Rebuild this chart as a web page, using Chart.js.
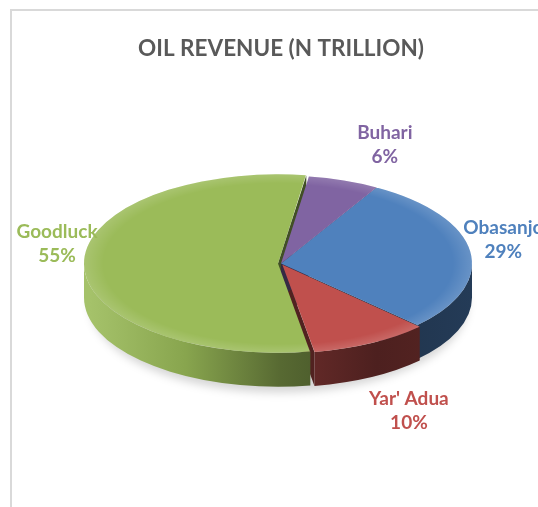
<!DOCTYPE html>
<html lang="en">
  <head>
    <meta charset="UTF-8" />
    <meta name="viewport" content="width=device-width, initial-scale=1.0" />
    <title>Oil revenue</title>
    <style>
      html, body { margin: 0; padding: 0; background: #fff; overflow: hidden; }
      #frame {
        position: absolute; left: 10px; top: 9px; width: 620px; height: 600px;
        border: 2px solid #d9d9d9; box-sizing: border-box;
      }
      #main-container { position: absolute; left: 0; top: 0; width: 538px; height: 507px; }
    </style>
  </head>
  <body>
    <div id="frame"></div>
    <div id="main-container"><canvas id="myChart" width="538" height="507"></canvas></div>

    <script src="https://cdn.jsdelivr.net/npm/chart.js"></script>

    <script>
      const labels = ["Obasanjo", "Yar' Adua", "Goodluck", "Buhari"];
      const shares = [29, 10, 55, 6];
      const colors = ["#4f81bd", "#c0504d", "#9bbb59", "#8064a2"];
      const explode = [0, 12, 12, 0];

      const tilt = 0.46; // vertical squash of the pie disc
      const depth = 34; // thickness of the disc in px
      const labelFont = "bold 19px Lato";

      function shade(hex, f) {
        const n = parseInt(hex.slice(1), 16);
        let rgb = [(n >> 16) & 255, (n >> 8) & 255, n & 255];
        rgb = rgb.map((c) => (f <= 1 ? c * f : c + (255 - c) * (f - 1)));
        return "rgb(" + rgb.map((c) => Math.round(c)).join(",") + ")";
      }

      // geometry of each slice, the same way ArcElement offsets it
      function sliceParts(chart) {
        return chart.getDatasetMeta(0).data.map((el, i) => {
          const p = el.getProps(["x", "y", "startAngle", "endAngle", "outerRadius", "circumference"], true);
          const off = (el.options.offset || 0) / 4;
          const half = (p.startAngle + p.endAngle) / 2;
          const fix = 1 - Math.sin(Math.min(Math.PI, p.circumference || 0));
          return {
            cx: p.x, cy: p.y, R: p.outerRadius,
            x: p.x + Math.cos(half) * off,
            y: p.y + Math.sin(half) * off,
            r: p.outerRadius + off * fix,
            s: p.startAngle, e: p.endAngle, mid: half,
            color: colors[i], label: labels[i], value: shares[i],
          };
        });
      }

      const pie3d = {
        id: "pie3d",
        beforeDatasetsDraw(chart) {
          const ctx = chart.ctx;
          const parts = sliceParts(chart);
          const cx = parts[0].cx, cy = parts[0].cy, R = parts[0].R;
          const D = depth / tilt;

          ctx.save();
          ctx.translate(cx, cy);
          ctx.scale(1, tilt);
          ctx.translate(-cx, -cy);

          // soft shadow under the disc
          ctx.save();
          ctx.filter = "blur(4px)";
          ctx.fillStyle = "rgba(0,0,0,0.16)";
          ctx.beginPath();
          ctx.ellipse(cx - 2, cy + D + 16, R - 2, R, 0, 0, Math.PI * 2);
          ctx.fill();
          ctx.restore();

          // cut faces that turn towards the viewer
          parts.forEach((p) => {
            [[p.s, -Math.cos(p.s)], [p.e, Math.cos(p.e)]].forEach(([a, facing]) => {
              if (facing <= 0) return;
              const ex = p.x + p.r * Math.cos(a), ey = p.y + p.r * Math.sin(a);
              ctx.beginPath();
              ctx.moveTo(p.x, p.y);
              ctx.lineTo(ex, ey);
              ctx.lineTo(ex, ey + D);
              ctx.lineTo(p.x, p.y + D);
              ctx.closePath();
              ctx.fillStyle = shade(p.color, 0.42);
              ctx.fill();
            });
          });

          // rounded outer wall, front half only
          parts.forEach((p) => {
            for (let n = -1; n <= 2; n++) {
              const a1 = Math.max(p.s, n * 2 * Math.PI);
              const a2 = Math.min(p.e, n * 2 * Math.PI + Math.PI);
              if (a2 <= a1) continue;
              const g = ctx.createLinearGradient(cx - R, 0, cx + R, 0);
              g.addColorStop(0, shade(p.color, 1.1));
              g.addColorStop(0.25, shade(p.color, 0.88));
              g.addColorStop(0.5, shade(p.color, 0.56));
              g.addColorStop(0.75, shade(p.color, 0.4));
              g.addColorStop(1, shade(p.color, 0.46));
              ctx.beginPath();
              ctx.arc(p.x, p.y, p.r, a1, a2);
              ctx.arc(p.x, p.y + D, p.r, a2, a1, true);
              ctx.closePath();
              ctx.fillStyle = g;
              ctx.fill();
            }
          });
          // the squashed transform stays on for the top faces
        },
        afterDatasetsDraw(chart) {
          const ctx = chart.ctx;
          const parts = sliceParts(chart);

          // faint bevel along the rim of each top face
          parts.forEach((p) => {
            const g = ctx.createRadialGradient(p.x, p.y, p.r * 0.9, p.x, p.y, p.r);
            g.addColorStop(0, "rgba(255,255,255,0)");
            g.addColorStop(1, "rgba(255,255,255,0.14)");
            ctx.beginPath();
            ctx.moveTo(p.x, p.y);
            ctx.arc(p.x, p.y, p.r, p.s, p.e);
            ctx.closePath();
            ctx.fillStyle = g;
            ctx.fill();
          });
          ctx.restore();

          ctx.save();
          ctx.font = labelFont;
          ctx.textAlign = "center";
          ctx.textBaseline = "middle";
          const lineH = 24;
          parts.forEach((p) => {
            const sx = Math.cos(p.mid), sy = Math.sin(p.mid);
            // outside-end labels, pushed clear of the disc and its front wall
            const lx = p.cx + (p.R - 12) * sx + 45 * Math.sign(sx);
            const ly = p.cy - 15 + 7 * sx + (p.R * tilt + 24) * sy + (depth + 34) * Math.max(0, sy);
            ctx.fillStyle = p.color;
            ctx.fillText(p.label, lx, ly - lineH / 2);
            ctx.fillText(p.value + "%", lx, ly + lineH / 2);
          });
          ctx.restore();
        },
      };

      const ctx = document.getElementById("myChart");
      new Chart(ctx, {
        type: "pie",
        data: {
          labels: labels,
          datasets: [
            {
              data: shares,
              backgroundColor: colors,
              borderWidth: 0,
              offset: explode,
              radius: 191,
              rotation: 30,
              clip: false,
            },
          ],
        },
        options: {
          responsive: false,
          animation: false,
          layout: { padding: { left: 24, right: 0, top: 0, bottom: 52 } },
          plugins: {
            legend: { display: false },
            tooltip: { enabled: false },
            title: {
              display: true,
              text: "OIL REVENUE (N TRILLION)",
              color: "#595959",
              font: { family: "Lato", size: 22.5, weight: "bold" },
              padding: { top: 35, bottom: 10 },
            },
          },
        },
        plugins: [pie3d],
      });
    </script>
  </body>
</html>
